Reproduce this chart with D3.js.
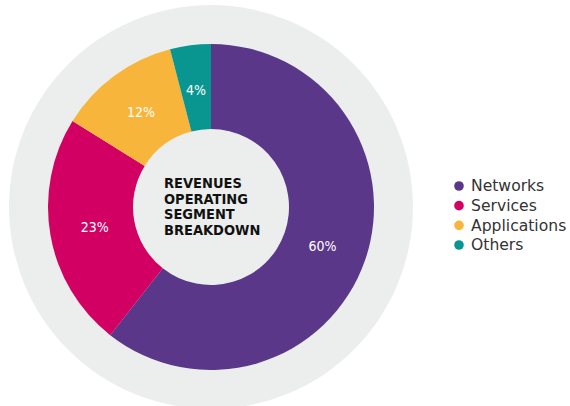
<!DOCTYPE html>
<html>
<head>
<meta charset="utf-8">
<script src="https://cdn.jsdelivr.net/npm/d3@7"></script>
<style>
  body { margin: 0; background: #fff; }
  svg { display: block; }
</style>
</head>
<body>
<svg id="chart" width="570" height="406"></svg>
<script>
"use strict";

const segments = ["Networks", "Services", "Applications", "Others"];
const shares = [60, 23, 12, 4];
const segmentColors = ["#5a3789", "#d20063", "#f8b53b", "#0a9690"];
const centerLines = ["REVENUES", "OPERATING", "SEGMENT", "BREAKDOWN"];

const cx = 211, cy = 207;
const bgRadius = 202, outerRadius = 163, innerRadius = 78;

const svg = d3.select("svg#chart");
const g = svg.append("g").attr("transform", `translate(${cx},${cy})`);

// grey background disc
g.append("circle").attr("r", bgRadius).attr("fill", "#eceeed");

const pie = d3.pie().sort(null).value(d => d.value);
const arc = d3.arc().innerRadius(innerRadius).outerRadius(outerRadius);
const labelArc = d3.arc().innerRadius(118).outerRadius(118);

const data = pie(segments.map((s, i) => ({name: s, value: shares[i], color: segmentColors[i]})));

g.selectAll("path.slice")
  .data(data)
  .join("path")
    .attr("class", "slice")
    .attr("d", arc)
    .attr("fill", d => d.data.color);

g.selectAll("text.pct")
  .data(data)
  .join("text")
    .attr("class", "pct")
    .attr("transform", d => `translate(${labelArc.centroid(d)})`)
    .attr("text-anchor", "middle")
    .attr("dy", "0.35em")
    .attr("fill", "#fff")
    .attr("font-family", "'DejaVu Sans Condensed', 'DejaVu Sans'")
    .attr("font-size", 14)
    .text(d => d.data.value + "%");

// centre title
const lineY = d3.scalePoint().domain(centerLines).range([-24, 23]);
g.append("text")
  .attr("font-family", "'DejaVu Sans Condensed', 'DejaVu Sans'")
  .attr("font-weight", "bold")
  .attr("font-size", 14.5)
  .attr("fill", "#111")
  .selectAll("tspan")
  .data(centerLines)
  .join("tspan")
    .attr("x", -47)
    .attr("y", d => lineY(d))
    .attr("dy", "0.35em")
    .text(d => d);

// legend
const legY = d3.scalePoint().domain(segments).range([186, 245]);
const leg = svg.append("g").selectAll("g")
  .data(segments)
  .join("g")
    .attr("transform", d => `translate(459,${legY(d)})`);
leg.append("circle")
  .attr("r", 4.8)
  .attr("fill", (d, i) => segmentColors[i]);
leg.append("text")
  .attr("x", 12)
  .attr("dy", "0.35em")
  .attr("font-family", "'DejaVu Sans', sans-serif")
  .attr("font-size", 15.6)
  .attr("fill", "#333")
  .text(d => d);
</script>
</body>
</html>
